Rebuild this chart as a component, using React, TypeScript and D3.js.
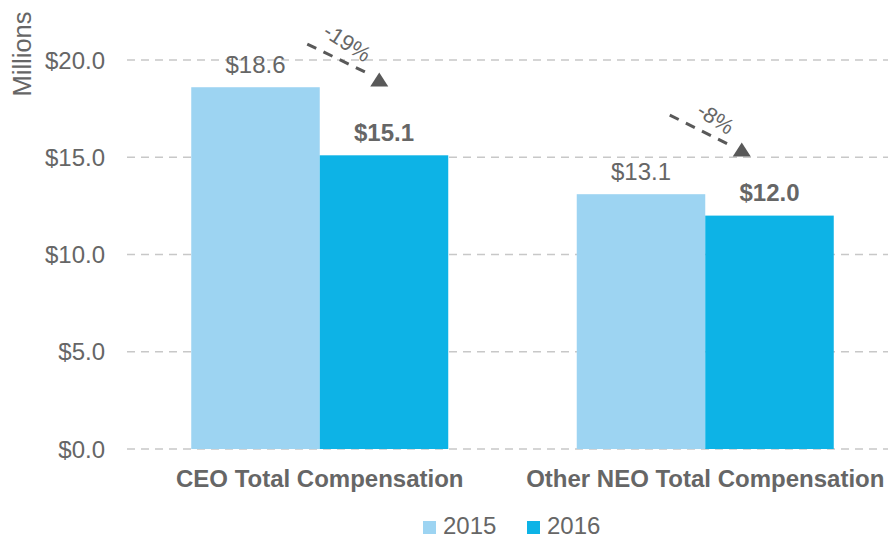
import React from "react";
import * as d3 from "d3";

const categories = ["CEO Total Compensation", "Other NEO Total Compensation"];
const series = ["2015", "2016"];
const values2015 = [18.6, 13.1];
const values2016 = [15.1, 12.0];
const yTicks = [0, 5, 10, 15, 20];
const changeLabels = ["-19%", "-8%"];

const W = 888;
const H = 539;
const FONT = "'Liberation Sans', Arial, Helvetica, sans-serif";
const TEXT = "#666666";
const COLORS = ["#9dd4f2", "#0db3e6"];
const FS = 24;

export default function App() {
  const x = d3.scaleBand<string>().domain(categories).range([127, 898]).paddingInner(1 / 3).paddingOuter(1 / 6);
  const xs = d3.scaleBand<string>().domain(series).range([0, x.bandwidth()]);
  const y = d3.scaleLinear().domain([0, 20]).range([449, 60]);
  const data = [values2015, values2016];

  // annotation offsets (relative to category band start / data scale)
  const annos = [
    { x0: 116, v0: 20.82, x1: 176, v1: 19.33, tri: 188, triV: 18.97, tx: 156, tv: 20.9 },
    { x0: 93, v0: 17.17, x1: 153, v1: 15.63, tri: 165, triV: 15.37, tx: 139, tv: 17.0 },
  ];

  return (
    <svg width={W} height={H} style={{ position: "absolute", left: 0, top: 0, background: "#fff" }} fontFamily={FONT}>
      {/* grid */}
      {yTicks.map((t) => (
        <g key={t}>
          <line x1={127} x2={W} y1={y(t)} y2={y(t)} stroke="#c8c8c8" strokeWidth={1.5} strokeDasharray="8 6" />
          <text x={105} y={y(t)} dy="0.36em" textAnchor="end" fontSize={FS} fill={TEXT}>
            {"$" + d3.format(".1f")(t)}
          </text>
        </g>
      ))}
      <text transform={`translate(31,54) rotate(-90)`} textAnchor="middle" fontSize={25.5} fill={TEXT}>
        Millions
      </text>
      {/* bars */}
      {categories.map((c, ci) => (
        <g key={c}>
          {series.map((s, si) => {
            const v = data[si][ci];
            const bx = (x(c) as number) + (xs(s) as number);
            return (
              <g key={s}>
                <rect x={bx} y={y(v)} width={xs.bandwidth()} height={y(0) - y(v)} fill={COLORS[si]} />
                <text
                  x={bx + xs.bandwidth() / 2}
                  y={y(v) - 14.5}
                  textAnchor="middle"
                  fontSize={FS}
                  fontWeight={si === 1 ? "bold" : "normal"}
                  fill={TEXT}
                >
                  {"$" + d3.format(".1f")(v)}
                </text>
              </g>
            );
          })}
          <text x={(x(c) as number) + x.bandwidth() / 2} y={487} textAnchor="middle" fontSize={FS} fontWeight="bold" fill={TEXT}>
            {c}
          </text>
        </g>
      ))}
      {/* annotations */}
      {categories.map((c, ci) => {
        const a = annos[ci];
        const bx = x(c) as number;
        const x0 = bx + a.x0, y0 = y(a.v0), x1 = bx + a.x1, y1 = y(a.v1);
        const tx = bx + a.tri, ty = y(a.triV);
        const lx = bx + a.tx, ly = y(a.tv);
        return (
          <g key={"a" + c}>
            <line x1={x0} y1={y0} x2={x1} y2={y1} stroke="#595959" strokeWidth={3} strokeDasharray="10 8" />
            <path d={`M${tx - 9},${ty + 6.5} L${tx + 9},${ty + 6.5} L${tx},${ty - 7.5} Z`} fill="#595959" />
            <text transform={`translate(${lx},${ly}) rotate(33)`} textAnchor="middle" dy="0.35em" fontSize={22} fill={TEXT}>
              {changeLabels[ci]}
            </text>
          </g>
        );
      })}
      {/* legend */}
      {series.map((s, si) => (
        <g key={"l" + s} transform={`translate(${423 + si * 104},521)`}>
          <rect width={13} height={13} fill={COLORS[si]} />
          <text x={20} y={12.5} fontSize={FS} fill={TEXT}>
            {s}
          </text>
        </g>
      ))}
    </svg>
  );
}
